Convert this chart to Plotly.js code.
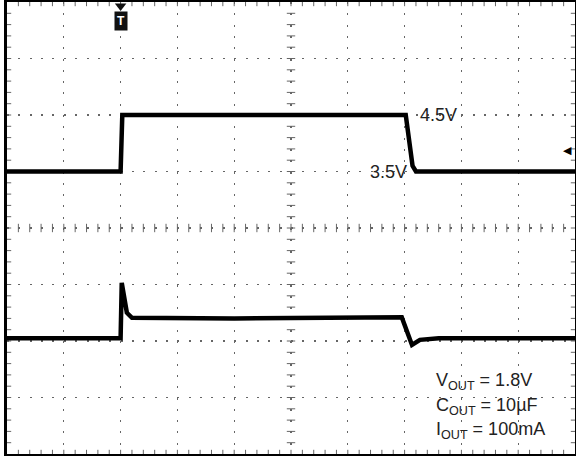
<!DOCTYPE html>
<html>
<head>
<meta charset="utf-8">
<script src="https://cdn.plot.ly/plotly-3.0.1.min.js"></script>
<style>
html,body{margin:0;padding:0;background:#fff;}
#chart{width:576px;height:456px;}
</style>
</head>
<body>
<div id="chart"></div>
<script>
// Time axis in screen divisions (10 div across)
const vinTime  = [0, 2.0, 2.03, 7.02, 7.14, 7.2, 10];
// VIN (V), channel 1 at 1 V/div
const vinVolts = [3.5, 3.5, 4.5, 4.5, 3.6, 3.5, 3.5];
// VOUT channel 2, position in divisions from bottom of screen
const voutTime = [0, 2.0, 2.02, 2.06, 2.11, 2.2, 4.0, 6.95, 7.13, 7.27, 7.6, 10];
const voutDiv  = [2.05, 2.05, 3.03, 2.73, 2.5, 2.41, 2.4, 2.42, 1.93, 2.02, 2.05, 2.05];
// Labels
const levelLabels = ["4.5V", "3.5V"];
const condLabels = ["V<sub>OUT</sub> = 1.8V", "C<sub>OUT</sub> = 10µF", "I<sub>OUT</sub> = 100mA"];
const triggerTime = 2.0;
const triggerLevel = 3.88;

// graticule geometry (screen divisions)
const X0 = 0, X1 = 10, Y0 = -1.5, Y1 = 6.5, XC = 5, YC = 2.5, SUB = 0.2;

// graticule minor tick positions (decoration, computed from the grid)
const hx = [], hy = [], vx = [], vy = [];
for (let i = 1; i < 50; i++) {
  const x = +(X0 + i * SUB).toFixed(3);
  hx.push(x, x, x); hy.push(Y0, YC, Y1);
}
for (let i = 1; i < 40; i++) {
  const y = +(Y0 + i * SUB).toFixed(3);
  vx.push(X0, XC, X1); vy.push(y, y, y);
}

const traceColor = '#000';
const tickColor = '#666';
const data = [
  {x: hx, y: hy, type: 'scatter', mode: 'markers', xaxis: 'x', yaxis: 'y', cliponaxis: true,
   marker: {symbol: 'line-ns', size: 6, line: {color: tickColor, width: 1}}, hoverinfo: 'skip'},
  {x: vx, y: vy, type: 'scatter', mode: 'markers', xaxis: 'x', yaxis: 'y', cliponaxis: true,
   marker: {symbol: 'line-ew', size: 6, line: {color: tickColor, width: 1}}, hoverinfo: 'skip'},
  {x: vinTime, y: vinVolts, type: 'scatter', mode: 'lines', xaxis: 'x', yaxis: 'y',
   line: {color: traceColor, width: 4.5}, hoverinfo: 'skip'},
  {x: voutTime, y: voutDiv, type: 'scatter', mode: 'lines', xaxis: 'x', yaxis: 'y4',
   line: {color: traceColor, width: 4.5}, hoverinfo: 'skip'},
  // trigger position arrow at the top edge
  {x: [triggerTime], y: [Y1 - 0.07], type: 'scatter', mode: 'markers', xaxis: 'x', yaxis: 'y',
   cliponaxis: false, marker: {symbol: 'triangle-down', size: 10, color: '#111'}, hoverinfo: 'skip'}
];

const layout = {
  width: 576, height: 456,
  margin: {l: 7, r: 1, t: 2, b: 2},
  paper_bgcolor: '#fff', plot_bgcolor: '#fff',
  showlegend: false,
  font: {family: 'Liberation Sans, Arial, sans-serif', color: '#222'},
  xaxis: {range: [X0, X1], tick0: 0, dtick: 1, showticklabels: false,
    showgrid: true, gridcolor: '#666', gridwidth: 1.3, griddash: '2px,9.3px',
    zeroline: false, showline: true, linecolor: '#000', linewidth: 3, mirror: true, ticks: ''},
  yaxis: {range: [Y0, Y1], tick0: 0.5, dtick: 1, showticklabels: false,
    showgrid: true, gridcolor: '#666', gridwidth: 1.3, griddash: '2px,9.36px',
    zeroline: false, showline: true, linecolor: '#000', linewidth: 3, mirror: true, ticks: ''},
  yaxis4: {overlaying: 'y', range: [0, 8], visible: false, showgrid: false, zeroline: false},
  annotations: [
    {x: 7.2, y: vinVolts[3], xref: 'x', yref: 'y', text: levelLabels[0], showarrow: false,
     xanchor: 'left', yanchor: 'middle', xshift: 2, font: {size: 18, color: '#222'}},
    {x: 7.0, y: vinVolts[0], xref: 'x', yref: 'y', text: levelLabels[1], showarrow: false,
     xanchor: 'right', yanchor: 'middle', xshift: 4, font: {size: 18, color: '#222'}},
    {x: 0.752, y: 0.160, xref: 'paper', yref: 'paper', text: condLabels[0], showarrow: false,
     xanchor: 'left', yanchor: 'middle', font: {size: 18, color: '#222'}},
    {x: 0.752, y: 0.106, xref: 'paper', yref: 'paper', text: condLabels[1], showarrow: false,
     xanchor: 'left', yanchor: 'middle', font: {size: 18, color: '#222'}},
    {x: 0.752, y: 0.051, xref: 'paper', yref: 'paper', text: condLabels[2], showarrow: false,
     xanchor: 'left', yanchor: 'middle', font: {size: 18, color: '#222'}},
    // trigger position marker
    {x: triggerTime, y: 1, xref: 'x', yref: 'paper', text: '<b>T</b>', showarrow: false, yanchor: 'top',
     yshift: -9, bgcolor: '#111', borderpad: 2, font: {size: 12, color: '#fff'}},
    // trigger level marker
    {x: 1, y: triggerLevel, xref: 'paper', yref: 'y', text: '◀', showarrow: false, xanchor: 'right',
     xshift: -1, font: {size: 11, color: '#000'}}
  ]
};

Plotly.newPlot('chart', data, layout, {staticPlot: true, displayModeBar: false});
</script>
</body>
</html>
